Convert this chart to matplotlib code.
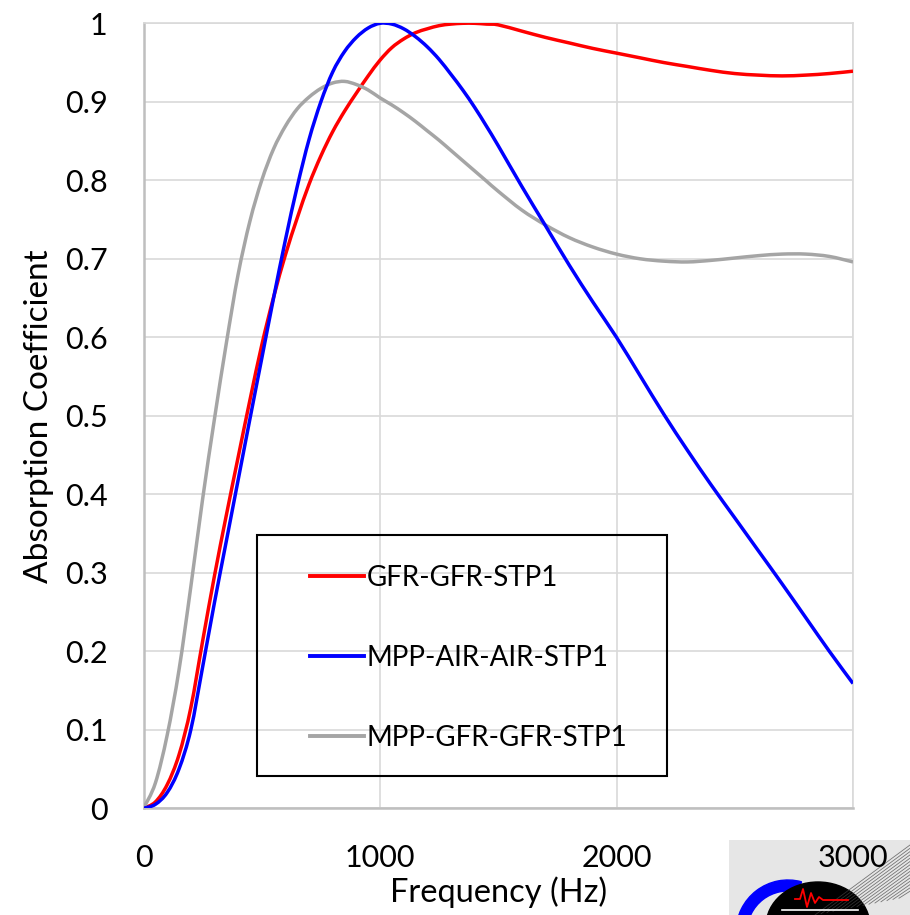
import matplotlib
matplotlib.use("Agg")
import numpy as np
import matplotlib.pyplot as plt
import matplotlib.patches as mpatches
from matplotlib.path import Path
from matplotlib.lines import Line2D

plt.rcParams["font.family"] = ["Lato", "DejaVu Sans"]

# frequency grid (Hz)
freq = [0, 50, 100, 150, 200, 250, 300, 350, 400, 450, 500, 550, 600, 650,
        700, 750, 800, 850, 900, 950, 1000, 1050, 1100, 1150, 1200, 1250,
        1300, 1350, 1400, 1450, 1500, 1600, 1700, 1800, 1900, 2000, 2100,
        2200, 2300, 2400, 2500, 2600, 2700, 2800, 2900, 3000]

gfr_gfr = [0, 0.008, 0.030, 0.068, 0.128, 0.213, 0.296, 0.373, 0.447, 0.520,
           0.590, 0.651, 0.705, 0.752, 0.795, 0.831, 0.862, 0.888, 0.911,
           0.933, 0.953, 0.969, 0.980, 0.988, 0.993, 0.997, 0.999, 1.000,
           1.000, 0.999, 0.998, 0.990, 0.982, 0.975, 0.968, 0.962, 0.956,
           0.950, 0.945, 0.940, 0.936, 0.934, 0.933, 0.934, 0.936, 0.939]

mpp_air_air = [0, 0.005, 0.020, 0.050, 0.100, 0.180, 0.262, 0.340, 0.418,
               0.496, 0.573, 0.650, 0.724, 0.792, 0.852, 0.900, 0.938, 0.964,
               0.982, 0.994, 1.000, 0.999, 0.993, 0.983, 0.970, 0.954, 0.935,
               0.915, 0.893, 0.869, 0.844, 0.792, 0.742, 0.692, 0.645, 0.600,
               0.551, 0.502, 0.456, 0.412, 0.370, 0.328, 0.286, 0.243, 0.200,
               0.159]

mpp_gfr_gfr = [0, 0.032, 0.093, 0.176, 0.282, 0.394, 0.496, 0.592, 0.680,
               0.748, 0.800, 0.840, 0.869, 0.891, 0.906, 0.917, 0.924, 0.926,
               0.922, 0.915, 0.905, 0.896, 0.886, 0.875, 0.863, 0.851, 0.838,
               0.825, 0.812, 0.799, 0.786, 0.762, 0.743, 0.727, 0.715, 0.706,
               0.700, 0.697, 0.696, 0.698, 0.701, 0.704, 0.706, 0.706, 0.703,
               0.696]

series_names = ["GFR-GFR-STP1", "MPP-AIR-AIR-STP1", "MPP-GFR-GFR-STP1"]
series_colors = ["#FF0000", "#0000FF", "#A5A5A5"]

x_ticks = [0, 1000, 2000, 3000]
x_ticklabels = ["0", "1000", "2000", "3000"]
y_ticks = [0, 0.1, 0.2, 0.3, 0.4, 0.5, 0.6, 0.7, 0.8, 0.9, 1.0]
y_ticklabels = ["0", "0.1", "0.2", "0.3", "0.4", "0.5", "0.6", "0.7", "0.8",
                "0.9", "1"]


def smoothed_path(xs, ys):
    """Bezier path through the points (spreadsheet-style smoothed line)."""
    pts = np.column_stack([xs, ys]).astype(float)
    n = len(pts)
    verts = [pts[0]]
    codes = [Path.MOVETO]
    for i in range(n - 1):
        p0 = pts[max(i - 1, 0)]
        p1 = pts[i]
        p2 = pts[i + 1]
        p3 = pts[min(i + 2, n - 1)]
        verts += [p1 + (p2 - p0) / 6.0, p2 - (p3 - p1) / 6.0, p2]
        codes += [Path.CURVE4] * 3
    return Path(verts, codes)


W, H = 910, 915
fig = plt.figure(figsize=(W / 100, H / 100), dpi=100)

x0, x1, ytop, ybot = 143.5, 853.0, 23.3, 808.3
ax = fig.add_axes([x0 / W, 1 - ybot / H, (x1 - x0) / W, (ybot - ytop) / H])
ax.set_zorder(2)

for ys, col, z in zip([gfr_gfr, mpp_air_air, mpp_gfr_gfr], series_colors,
                      [3, 5, 4]):
    ax.add_patch(mpatches.PathPatch(smoothed_path(freq, ys), fill=False,
                                    edgecolor=col, lw=2.5, zorder=z,
                                    capstyle="butt"))

ax.set_xlim(0, 3000)
ax.set_ylim(0, 1)
ax.set_xticks(x_ticks)
ax.set_xticklabels(x_ticklabels)
ax.set_yticks(y_ticks)
ax.set_yticklabels(y_ticklabels)
ax.tick_params(length=0, labelsize=22, pad=26)
ax.grid(True, color="#D9D9D9", lw=1.2)
ax.set_axisbelow(True)
for side in ("left", "bottom"):
    ax.spines[side].set_color("#BFBFBF")
    ax.spines[side].set_linewidth(1.8)
for side in ("top", "right"):
    ax.spines[side].set_color("#D9D9D9")
    ax.spines[side].set_linewidth(1.2)

ax.set_xlabel("Frequency (Hz)", fontsize=23.5, labelpad=3)
ax.set_ylabel("Absorption Coefficient", fontsize=24, labelpad=8)

# legend: frameless, box drawn separately
handles = [Line2D([], [], color=c, lw=2.8) for c in series_colors]
leg = ax.legend(handles, series_names, loc="upper left",
                bbox_to_anchor=(310 / W, 1 - 565 / H),
                bbox_transform=fig.transFigure, frameon=False, fontsize=20,
                handlelength=1.95, handletextpad=0.1, labelspacing=1.94,
                borderpad=0, borderaxespad=0)
box = mpatches.Rectangle((256.7 / W, 1 - 776 / H), (667.3 - 256.7) / W,
                         (776 - 535) / H, transform=fig.transFigure,
                         fill=False, edgecolor="black", lw=1.5, zorder=6)
fig.add_artist(box)

# small emblem in the lower right corner
lg = fig.add_axes([729 / W, 0, (W - 729) / W, 75 / H])
lg.set_zorder(0)
lg.set_xlim(729, 910)
lg.set_ylim(915, 840)
lg.axis("off")
lg.add_patch(mpatches.Rectangle((729, 840), 181, 75, color="#E6E6E6"))
for off in range(0, 90, 6):
    lg.plot([815 + off, 910], [915 - off * 0.2, 845 + off * 0.55],
            color="#444444", lw=0.6, alpha=0.7)
lg.add_patch(mpatches.Wedge((788, 932), 52, 180, 285, width=11,
                            color="#0000FF"))
lg.add_patch(mpatches.Ellipse((818, 926), 104, 88, color="black"))
lg.plot([782, 858], [910, 910], color="white", lw=1.2)
lg.plot([795, 800, 803, 807, 811, 815, 819, 823, 848],
        [899, 899, 889, 907, 893, 903, 897, 900, 900],
        color="#FF0000", lw=1.3)

fig.savefig("out.png", dpi=100)
